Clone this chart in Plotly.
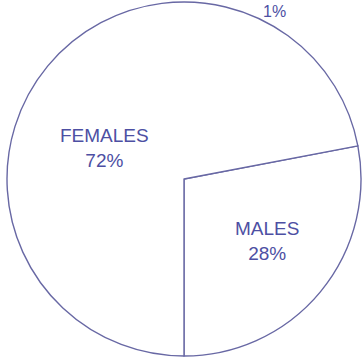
import plotly.graph_objects as go

# Share of the population by sex
labels = ["MALES", "FEMALES"]
values = [28, 72]
# Small extra slice label shown at the top edge
extra_label = "1%"

W, H = 362, 358
text_color = "#4d4fa3"
line_color = "#6868a4"
font_family = "Liberation Sans, Arial, sans-serif"

fig = go.Figure(
    go.Pie(
        labels=labels,
        values=values,
        sort=False,
        direction="clockwise",
        rotation=180 - 360 * values[0] / sum(values),
        textinfo="none",
        hoverinfo="label+percent",
        marker=dict(colors=["white", "white"], line=dict(color=line_color, width=1.4)),
        domain=dict(x=[7 / W, 361 / W], y=[2 / H, 356 / H]),
        showlegend=False,
    )
)

# Slice captions placed inside each slice
label_pos = {"FEMALES": (104, 148), "MALES": (267, 241)}
total = sum(values)
for lab, val in zip(labels, values):
    px, py = label_pos[lab]
    fig.add_annotation(
        x=px / W, y=1 - py / H, xref="paper", yref="paper",
        text=f"{lab}<br>{round(100 * val / total)}%",
        showarrow=False, xanchor="center", yanchor="middle",
        font=dict(family=font_family, size=19, color=text_color),
    )

fig.add_annotation(
    x=274 / W, y=1 - 1 / H, xref="paper", yref="paper",
    text=extra_label, showarrow=False, xanchor="center", yanchor="top",
    font=dict(family=font_family, size=16, color=text_color),
)

fig.update_layout(
    width=W, height=H,
    margin=dict(l=0, r=0, t=0, b=0),
    paper_bgcolor="white", plot_bgcolor="white",
)

fig.write_html("out.html")
